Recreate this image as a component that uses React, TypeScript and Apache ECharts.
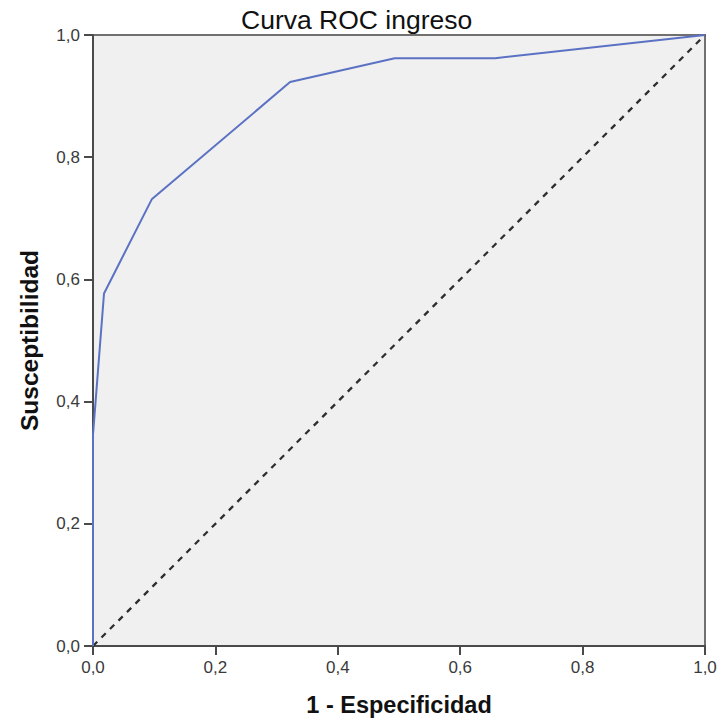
import React, { useEffect, useRef } from "react";
import * as echarts from "echarts";

const rocX = [0, 0, 0.018, 0.096, 0.322, 0.493, 0.657, 1];
const rocY = [0, 0.346, 0.577, 0.731, 0.923, 0.962, 0.962, 1];
const refX = [0, 1];
const refY = [0, 1];
const titleText = "Curva ROC ingreso";
const xName = "1 - Especificidad";
const yName = "Susceptibilidad";

export default function App() {
  const ref = useRef<HTMLDivElement>(null);
  useEffect(() => {
    if (!ref.current) return;
    const chart = echarts.init(ref.current, null, { renderer: "svg" });
    const axisCommon = {
      type: "value",
      min: 0,
      max: 1,
      interval: 0.2,
      splitLine: { show: false },
      axisLine: { show: true, lineStyle: { color: "#4a4a4a", width: 2 } },
      axisTick: { show: true, length: 9, lineStyle: { color: "#4a4a4a", width: 2 } },
      axisLabel: {
        color: "#3a3a3a",
        fontFamily: "Liberation Sans, Arial, sans-serif",
        fontSize: 17,
        margin: 13,
        formatter: (v: number) => v.toFixed(1).replace(".", ","),
      },
      nameLocation: "middle",
      nameTextStyle: {
        color: "#111",
        fontFamily: "Liberation Sans, Arial, sans-serif",
        fontWeight: "bold",
        fontSize: 23.5,
      },
    };
    chart.setOption({
      animation: false,
      backgroundColor: "#ffffff",
      title: {
        text: titleText,
        left: 236,
        top: 1,
        textStyle: {
          fontFamily: "Liberation Sans, Arial, sans-serif",
          fontWeight: "normal",
          fontSize: 26.5,
          color: "#111",
        },
      },
      grid: {
        left: 93,
        top: 35,
        right: 21,
        bottom: 76,
        show: true,
        backgroundColor: "#f0f0f0",
        borderColor: "#707070",
        borderWidth: 2,
      },
      xAxis: { ...axisCommon, name: xName, nameGap: 47 },
      yAxis: {
        ...axisCommon,
        name: yName,
        nameGap: 51,
        nameTextStyle: { ...axisCommon.nameTextStyle, fontSize: 24.5 },
      },
      series: [
        {
          type: "line",
          data: refX.map((x, i) => [x, refY[i]]),
          symbol: "none",
          lineStyle: { color: "#2e2e2e", width: 2.3, type: [6, 6] },
          z: 2,
        },
        {
          type: "line",
          data: rocX.map((x, i) => [x, rocY[i]]),
          symbol: "none",
          lineStyle: { color: "#5b72c4", width: 2 },
          z: 3,
        },
      ],
    });
    return () => chart.dispose();
  }, []);
  return <div ref={ref} style={{ width: 726, height: 722, position: "absolute", left: 0, top: 0 }} />;
}
